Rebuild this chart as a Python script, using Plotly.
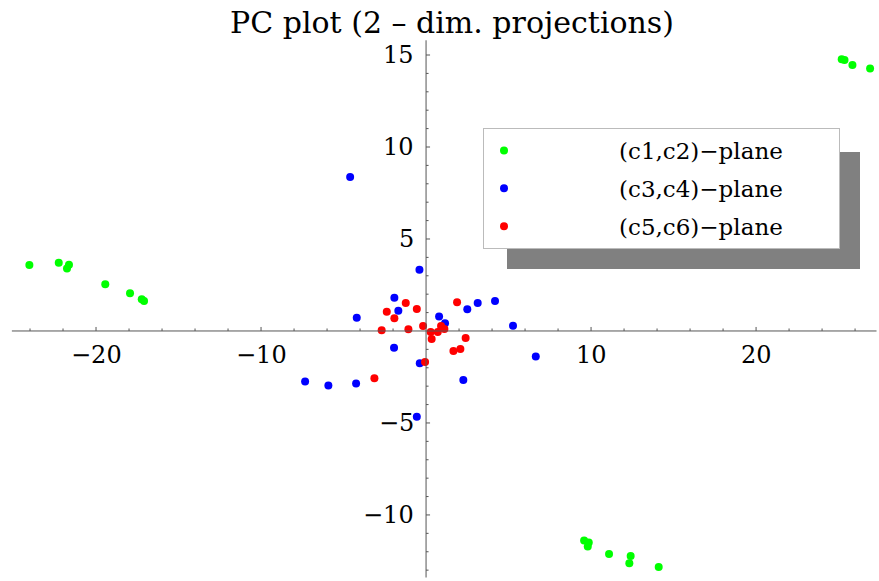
import plotly.graph_objects as go

# ---------------- data ----------------
green_x = [-24.04, -22.26, -21.64, -21.76, -19.44, -17.94, -17.23, -17.09,
           25.19, 25.36, 25.84, 26.91,
           9.58, 9.86, 9.80, 11.09, 12.40, 12.32, 14.10]
green_y = [3.59, 3.71, 3.60, 3.39, 2.54, 2.05, 1.72, 1.63,
           14.77, 14.73, 14.46, 14.26,
           -11.39, -11.50, -11.72, -12.12, -12.23, -12.63, -12.83]

blue_x = [-4.60, -0.40, -1.92, -1.68, -4.20, 0.79, 1.15, 2.50, 3.13, 4.18,
          5.27, 6.65, -1.94, -0.38, 2.26, -0.56, -7.33, -5.92, -4.24]
blue_y = [8.37, 3.33, 1.81, 1.10, 0.72, 0.78, 0.42, 1.18, 1.52, 1.63,
          0.29, -1.39, -0.91, -1.76, -2.66, -4.66, -2.75, -2.97, -2.86]

red_x = [-1.23, -2.38, -1.92, -0.56, 1.88, -2.69, -1.07, -0.18, 0.28, 0.34,
         0.71, 0.91, 1.11, 2.40, 2.08, 1.66, -0.06, -3.13]
red_y = [1.52, 1.05, 0.69, 1.20, 1.56, 0.04, 0.09, 0.27, -0.05, -0.43,
         -0.05, 0.27, 0.11, -0.38, -0.98, -1.09, -1.68, -2.57]

series_names = ["(c1,c2)\u2212plane", "(c3,c4)\u2212plane", "(c5,c6)\u2212plane"]
series_colors = ["#00ff00", "#0000ff", "#ff0000"]

x_major = [-20, -10, 10, 20]
x_minor = list(range(-24, 27, 2))
y_major = [-10, -5, 5, 10, 15]
y_minor = list(range(-13, 16, 1))
x_axis_extent = [-25.1, 27.3]
y_axis_extent = [-13.4, 15.8]

title_text = "PC plot (2 \u2013 dim. projections)"
FONT = "DejaVu Serif"

# ---------------- figure ----------------
fig = go.Figure()
pad_l = "\u00a0" * 13
pad_r = "\u00a0" * 7
for i, (xs, ys) in enumerate([(green_x, green_y), (blue_x, blue_y), (red_x, red_y)]):
    fig.add_trace(go.Scatter(
        x=xs, y=ys, mode="markers", name=pad_l + series_names[i] + pad_r,
        legendgroup="g%d" % i,
        marker=dict(color=series_colors[i], size=8, line=dict(width=0)),
    ))

shapes = []
axis_col = "#555555"
# axes through the origin
shapes.append(dict(type="line", xref="x", yref="y", x0=x_axis_extent[0], x1=x_axis_extent[1],
                   y0=0, y1=0, line=dict(color=axis_col, width=1)))
shapes.append(dict(type="line", xref="x", yref="y", x0=0, x1=0,
                   y0=y_axis_extent[0], y1=y_axis_extent[1], line=dict(color=axis_col, width=1)))
for t in x_minor:
    if t == 0:
        continue
    L = 4 if t in x_major else 2.5
    shapes.append(dict(type="line", xref="x", yref="y", ysizemode="pixel", yanchor=0,
                       x0=t, x1=t, y0=0, y1=L, line=dict(color=axis_col, width=1)))
for t in y_minor:
    if t == 0:
        continue
    L = 4 if t in y_major else 2.5
    shapes.append(dict(type="line", xref="x", yref="y", xsizemode="pixel", xanchor=0,
                       x0=0, x1=L, y0=t, y1=t, line=dict(color=axis_col, width=1)))
# legend drop shadow
shapes.append(dict(type="rect", xref="paper", yref="paper",
                   x0=507 / 879, x1=860 / 879, y0=1 - 269 / 581, y1=1 - 152 / 581,
                   fillcolor="#808080", line=dict(width=0), layer="above"))

annotations = []
for t in x_major:
    annotations.append(dict(x=t, y=0, xref="x", yref="y", text=("\u2212%d" % -t) if t < 0 else str(t),
                            showarrow=False, yshift=-24, xanchor="center", yanchor="middle",
                            font=dict(family=FONT, size=24, color="black")))
for t in y_major:
    annotations.append(dict(x=0, y=t, xref="x", yref="y", text=("\u2212%d" % -t) if t < 0 else str(t),
                            showarrow=False, xshift=-10, xanchor="right", yanchor="middle",
                            font=dict(family=FONT, size=24, color="black")))

fig.update_layout(
    width=879, height=581, autosize=False,
    margin=dict(l=0, r=0, t=0, b=0),
    paper_bgcolor="white", plot_bgcolor="white",
    xaxis=dict(range=[-25.82, 27.45], visible=False, fixedrange=True),
    yaxis=dict(range=[-13.59, 17.99], visible=False, fixedrange=True),
    title=dict(text=title_text, x=452 / 879, xanchor="center", y=1 - 22 / 581, yanchor="middle",
               font=dict(family=FONT, size=30, color="black")),
    shapes=shapes,
    annotations=annotations,
    showlegend=True,
    legend=dict(x=483 / 879, y=1 - 128 / 581, xanchor="left", yanchor="top",
                bgcolor="white", bordercolor="#bbbbbb", borderwidth=1,
                font=dict(family=FONT, size=23, color="black"),
                tracegroupgap=5, traceorder="grouped"),
)

fig.write_html("out.html")
